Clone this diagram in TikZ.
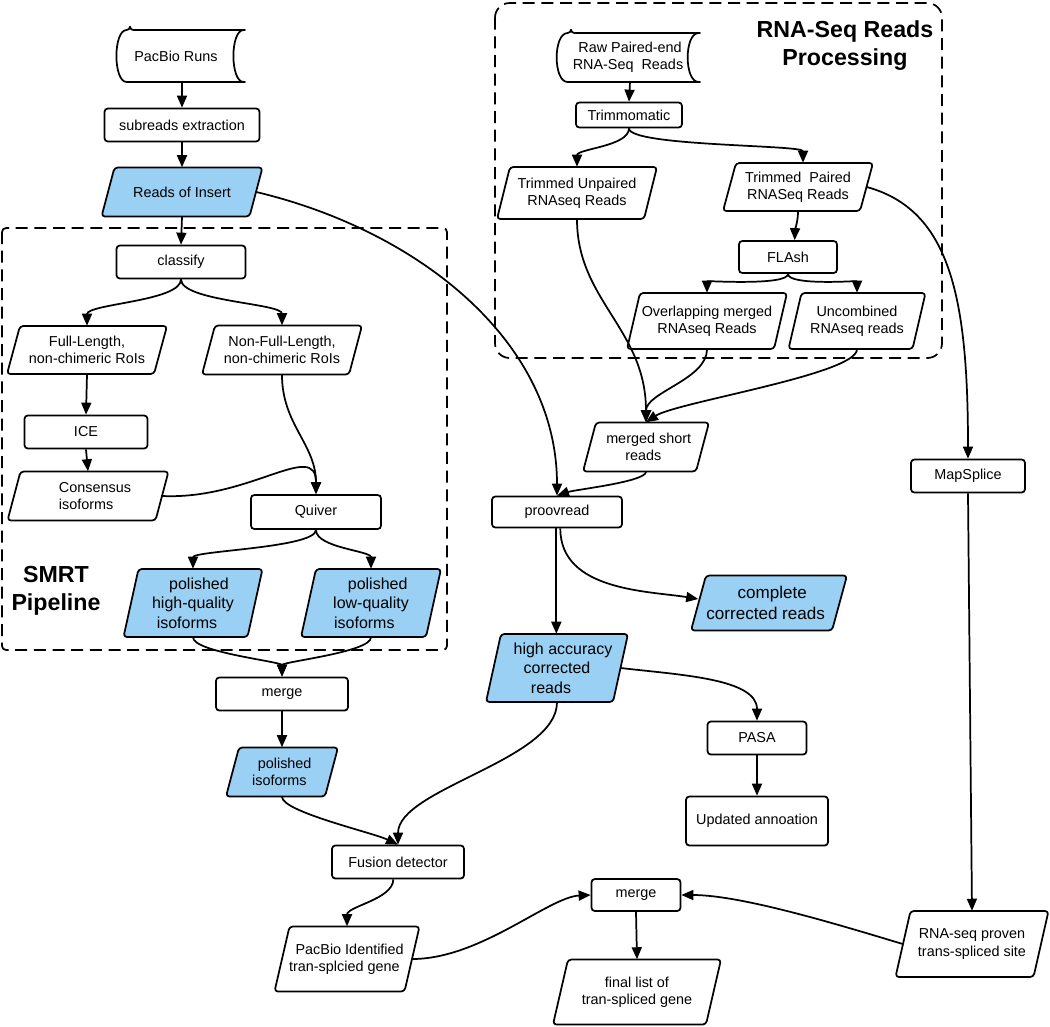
\documentclass[tikz,border=0pt]{standalone}
\usepackage{fontspec}
\setmainfont{Liberation Sans}
\usetikzlibrary{arrows.meta,calc}
\definecolor{pblue}{RGB}{153,208,244}
\newcommand\nf{\fontsize{10.8}{13}\selectfont}
\newcommand\bigf{\fontsize{12}{14.5}\selectfont}
\newcommand\biggf{\fontsize{12.8}{15.5}\selectfont}
\newcommand\ttlf{\fontsize{17.4}{21}\selectfont\bfseries}
\newcommand\pgram[9]{%
  \draw[pshape,fill=#1] ({#3-#5/2+#7},{#4-#6/2}) -- ({#3+#5/2},{#4-#6/2}) -- ({#3+#5/2-#7},{#4+#6/2}) -- ({#3-#5/2},{#4+#6/2}) -- cycle;
  \node[ptext,#8,minimum width={(#5-#7)*0.75pt},minimum height={#6*0.75pt}] (#2) at (#3,#4) {#9};
}
\tikzset{
  box/.style={draw, line width=1.3pt, rounded corners=2.5pt, fill=white, inner sep=0pt, align=center, font=\nf},
  pshape/.style={draw, line width=1.3pt, rounded corners=2.5pt, line join=round},
  ptext/.style={inner sep=0pt, align=center, font=\nf},
  conn/.style={line width=1.3pt, -{Triangle[length=9pt,width=7.5pt]}},
  grp/.style={draw, line width=1.3pt, dash pattern=on 9pt off 5pt},
  sz/.style 2 args={minimum width=#1*0.75pt, minimum height=#2*0.75pt},
  vv/.style={to path={.. controls ($(\tikztostart)+(0,#1)$) and ($(\tikztotarget)+(0,-#1)$) .. (\tikztotarget) \tikztonodes}},
  vv/.default=20
}
\begin{document}
\begin{tikzpicture}[x=0.75pt,y=-0.75pt]
\fill[white] (0,0) rectangle (1050,1026);
\useasboundingbox (0,0) rectangle (1050,1026);

% groups
\draw[grp, rounded corners=3pt] (2,228) rectangle (447,650);
\draw[grp, rounded corners=11pt] (495,3) rectangle (942,358);
\node[font=\ttlf, align=center, inner sep=0pt] (smrt) at (56,591) {SMRT\\Pipeline};
\node[font=\ttlf, align=center, inner sep=0pt] (rnat) at (845,46) {RNA-Seq Reads\\Processing};

% stored data shapes
\draw[pshape, fill=white] (130,30) -- (247,30) .. controls (230,30) and (230,82) .. (247,82) -- (130,82) .. controls (113,82) and (113,30) .. (130,30) -- cycle;
\node[ptext, sz={130}{52}] (pb) at (182,56) {PacBio Runs\hspace*{9pt}};
\draw[pshape, fill=white] (571,33) -- (702,33) .. controls (684,33) and (684,82) .. (702,82) -- (571,82) .. controls (553,82) and (553,33) .. (571,33) -- cycle;
\node[ptext, sz={145}{49}] (raw) at (630,57) {Raw Paired-end\\RNA-Seq\ \ Reads\hspace*{3pt}};

% left column
\node[box, sz={155}{33}] (se) at (182,125) {subreads extraction};
\pgram{pblue}{ri}{182}{192}{161}{49}{13}{}{Reads of Insert}
\node[box, sz={129}{33}] (cl) at (181,262) {classify};
\pgram{white}{fl}{87}{350}{160}{48}{13}{}{Full-Length,\\non-chimeric RoIs}
\pgram{white}{nfl}{282}{350}{160}{49}{13}{}{Non-Full-Length,\\non-chimeric RoIs}
\node[box, sz={123}{33}] (ice) at (86,432) {ICE};
\pgram{white}{cons}{88}{496}{161}{49}{13}{align=left}{\hspace*{10.5pt}Consensus\\\hspace*{10.5pt}isoforms}
\node[box, sz={130}{34}] (qv) at (316,512) {Quiver};
\pgram{pblue}{phq}{193}{603}{139}{68}{15}{font=\bigf}{\hspace*{9pt}polished\\high-quality\\isoforms\hspace*{9pt}}
\pgram{pblue}{plq}{371}{603}{140}{68}{15}{font=\bigf}{\hspace*{10pt}polished\\low-quality\\isoforms\hspace*{10pt}}
\node[box, sz={132}{33}] (mg1) at (282,694) {merge};
\pgram{pblue}{pis}{282}{772}{112}{49}{13}{}{\hspace*{4pt}polished\\isoforms\hspace*{4pt}}
\node[box, sz={132}{33}] (fd) at (398,862) {Fusion detector};
\pgram{white}{pbi}{347}{959}{145}{65}{15}{}{\hspace*{4pt}PacBio Identified\\tran-splcied gene\hspace*{4pt}}

% right part
\node[box, sz={106}{25}] (trim) at (629,115) {Trimmomatic};
\pgram{white}{tu}{577}{193}{160}{52}{13}{}{Trimmed Unpaired\\RNAseq Reads}
\pgram{white}{tp}{798}{187}{150}{48}{13}{}{Trimmed\ \ Paired\\RNASeq Reads}
\node[box, sz={98}{32}] (flash) at (788,257) {FLAsh};
\pgram{white}{ov}{707}{321}{160}{56}{13}{}{Overlapping merged\\RNAseq Reads}
\pgram{white}{un}{857}{321}{137}{56}{13}{}{Uncombined\\RNAseq reads}
\pgram{white}{msr}{646}{447}{126}{49}{13}{}{\hspace*{4pt}merged short\\reads\hspace*{4pt}}
\node[box, sz={130}{31}] (pr) at (557,512) {proovread};
\node[box, sz={114}{33}] (ms) at (968,476) {MapSplice};
\pgram{pblue}{ccr}{769}{603}{156}{55}{15}{font=\biggf}{\hspace*{5pt}complete\\corrected reads\hspace*{5pt}}
\pgram{pblue}{har}{557}{668}{142}{68}{15}{font=\bigf}{\hspace*{9pt}high accuracy\\corrected\\reads\hspace*{9pt}}
\node[box, sz={99}{33}] (pasa) at (757,738) {PASA};
\node[box, sz={142}{49}] (ua) at (757,821) {Updated annoation};
\node[box, sz={89}{32}] (mg2) at (636,895) {merge};
\pgram{white}{fin}{637}{992}{168}{65}{15}{}{final list of\\tran-spliced gene}
\pgram{white}{rp}{972}{944}{153}{66}{15}{}{RNA-seq proven\\trans-spliced site}

% connectors
\draw[conn] (pb.south) -- (se.north);
\draw[conn] (se.south) -- (ri.north);
\draw[conn] (ri.south) -- (cl.north);
\draw[conn] (ri.east) .. controls ($(ri.east)+(160,38)$) and ($(pr.north)+(0,-156)$) .. (pr.north);
\draw[conn] (cl.south) to[vv=22] (fl.north);
\draw[conn] (cl.south) to[vv=22] (nfl.north);
\draw[conn] (fl.south) -- (ice.north);
\draw[conn] (ice.south) -- (cons.north);
\draw[conn] (nfl.south) to[vv=50] (qv.north);
\draw[conn] (cons.east) .. controls ($(cons.east)+(88,4)$) and ($(qv.north)+(0,-55)$) .. (qv.north);
\draw[conn] (qv.south) to[vv=18] (phq.north);
\draw[conn] (qv.south) to[vv=18] (plq.north);
\draw[conn] (phq.south) to[vv=15] (mg1.north);
\draw[conn] (plq.south) to[vv=15] (mg1.north);
\draw[conn] (mg1.south) -- (pis.north);
\draw[conn] (pis.south) .. controls ($(pis.south)+(0,15)$) and ($(fd.north)+(-25,-12)$) .. (fd.north);
\draw[conn] (har.south) .. controls ($(har.south)+(0,58)$) and ($(fd.north)+(0,-56)$) .. (fd.north);
\draw[conn] ([xshift=-3.5pt]fd.south) .. controls ($(fd.south)+(-5,20)$) and ($(pbi.north)+(0,-20)$) .. (pbi.north);
\draw[conn] (pbi.east) .. controls ($(pbi.east)+(68,0)$) and ($(mg2.west)+(-42,2)$) .. (mg2.west);
\draw[conn] (mg2.south) -- (fin.north);
\draw[conn] (rp.west) .. controls ($(rp.west)+(-63,-19)$) and ($(mg2.east)+(60,0)$) .. (mg2.east);
\draw[conn] (ms.south) -- (rp.north);
\draw[conn] (tp.east) .. controls ($(tp.east)+(84,23)$) and ($(ms.north)+(0,-160)$) .. (ms.north);
\draw[conn] (raw.south) -- (trim.north);
\draw[conn] (trim.south) to[vv=18] (tu.north);
\draw[conn] (trim.south) .. controls ($(trim.south)+(0,18)$) and ($(tp.north)+(5,-18)$) .. ([xshift=3.75pt]tp.north);
\draw[conn] (tp.south) .. controls ($(tp.south)+(0,10)$) and ($(flash.north)+(7,-10)$) .. ([xshift=5pt]flash.north);
\draw[conn] (flash.south) to[vv=12] (ov.north);
\draw[conn] (flash.south) to[vv=12] (un.north);
\draw[conn] (tu.south) .. controls ($(tu.south)+(0,81)$) and ($(msr.north)+(0,-93)$) .. (msr.north);
\draw[conn] (ov.south) to[vv=30] (msr.north);
\draw[conn] (un.south) .. controls ($(un.south)+(0,25)$) and ($(msr.north)+(30,-20)$) .. (msr.north);
\draw[conn] (msr.south) .. controls ($(msr.south)+(0,10)$) and ($(pr.north)+(18,-6)$) .. (pr.north);
\draw[conn] ([xshift=-0.5pt]pr.south) -- ([xshift=-0.5pt]har.north);
\draw[conn] ([xshift=2.5pt]pr.south) .. controls ($(pr.south)+(3,63)$) and ($(ccr.west)+(-48,-12)$) .. ([yshift=3pt]ccr.west);
\draw[conn] (har.east) .. controls ($(har.east)+(60,7)$) and ($(pasa.north)+(0,-42)$) .. (pasa.north);
\draw[conn] (pasa.south) -- (ua.north);
\end{tikzpicture}
\end{document}
